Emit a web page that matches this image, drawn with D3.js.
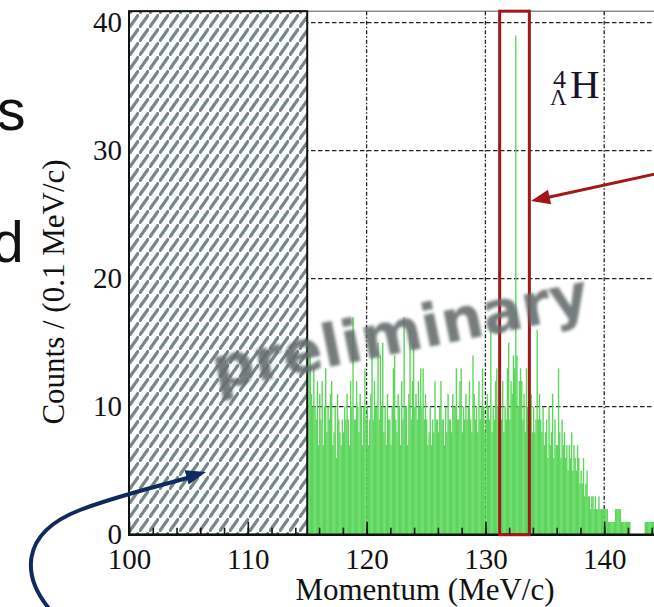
<!DOCTYPE html>
<html>
<head>
<meta charset="utf-8">
<script src="https://cdnjs.cloudflare.com/ajax/libs/d3/7.8.5/d3.min.js"></script>
<style>
  html, body { margin: 0; padding: 0; background: #fff; }
  svg { display: block; }
</style>
</head>
<body>
<div id="chart"></div>
<script>
// ---------------- data ----------------
const binStart = 115.0;      // MeV/c, first bin lower edge
const binWidth = 0.1;        // MeV/c
const counts = [
  9,15,14,11,10,13,10,9,12,7,
  11,9,12,7,10,13,8,10,9,11,
  12,7,8,10,6,11,9,8,7,9,
  8,10,9,11,9,7,12,10,17,9,
  9,12,10,8,11,10,7,10,13,9,
  10,7,9,11,16,9,12,10,10,15,
  9,14,10,15,8,10,7,11,9,9,
  7,10,13,14,9,8,11,10,7,12,
  9,17,10,10,7,11,16,9,12,15,
  10,11,9,12,10,13,10,13,9,11,
  9,7,8,10,7,9,8,12,9,9,
  8,10,12,9,9,7,10,8,11,9,
  9,8,11,10,10,13,9,9,12,13,
  8,10,9,11,9,10,12,9,8,14,
  11,9,10,8,12,9,10,13,10,8,
  9,11,10,9,16,8,10,9,12,13,
  10,9,11,9,12,8,10,9,13,15,
  9,12,11,14,13,39,14,10,12,13,
  12,9,11,8,13,10,9,9,11,8,
  10,8,9,16,9,11,9,8,10,7,
  8,9,6,10,7,8,11,6,9,7,
  7,13,8,6,9,7,8,6,7,5,
  7,6,8,5,7,6,5,7,6,4,
  5,4,6,3,4,5,3,3,2,3,
  3,2,3,2,2,3,2,2,2,2,
  2,2,2,1,1,1,1,1,1,2,
  2,2,2,2,1,1,1,1,1,1,
  1,1,0,0,0,0,0,0,0,0,
  0,0,0,0,1,1,1,1,1,1,
  1,1,1,0,0,0,0,0,0,0
];
const xDomain = [100, 150];
const yDomain = [0, 40];
const yFrameTop = 40.9;
const xMajorTicks = [100, 110, 120, 130, 140, 150];
const xMinorTicks = d3.range(100, 151, 2);
const yTicks = [0, 10, 20, 30, 40];
const xGrid = [110, 120, 130, 140];
const yGrid = [10, 20, 30, 40];
const cutRegion = [100, 115];        // hatched (excluded) region
const signalWindow = [131.2, 133.7]; // red box
const xTitle = "Momentum (MeV/c)";
const yTitle = "Counts / (0.1 MeV/c)";
const watermark = "preliminary";
const sideLetters = ["s", "d"];

// ---------------- layout ----------------
const W = 654, H = 607;
const svg = d3.select("#chart").append("svg")
  .attr("width", W).attr("height", H)
  .attr("viewBox", `0 0 ${W} ${H}`);

const x = d3.scaleLinear().domain(xDomain).range([129, 129 + 50 * 11.88]);
const y = d3.scaleLinear().domain(yDomain).range([534.7, 22.7]);

const defs = svg.append("defs");
const hatch = defs.append("pattern")
  .attr("id", "hatch").attr("patternUnits", "userSpaceOnUse")
  .attr("width", 10).attr("height", 14)
  .attr("x", x(100)).attr("y", 0);
hatch.append("rect").attr("width", 10).attr("height", 14).attr("fill", "#fff");
hatch.append("line").attr("x1", 0.3).attr("y1", 13.7).attr("x2", 9.7).attr("y2", 0.3)
  .attr("stroke", "#748888").attr("stroke-width", 3.2);

const blur = defs.append("filter").attr("id", "blur")
  .attr("x", "-10%").attr("y", "-30%").attr("width", "120%").attr("height", "160%");
blur.append("feGaussianBlur").attr("stdDeviation", 1.5);

const serif = "'Liberation Serif', 'Times New Roman', serif";

// side slide text
svg.append("text").attr("x", -3).attr("y", 130)
  .attr("font-family", "'Liberation Sans', Arial, sans-serif").attr("font-size", 57)
  .attr("fill", "#111").text(sideLetters[0]);
svg.append("text").attr("x", -8).attr("y", 262)
  .attr("font-family", "'Liberation Sans', Arial, sans-serif").attr("font-size", 57)
  .attr("fill", "#111").text(sideLetters[1]);

// frame top line
svg.append("line")
  .attr("x1", x(100)).attr("x2", W).attr("y1", y(yFrameTop)).attr("y2", y(yFrameTop))
  .attr("stroke", "#555").attr("stroke-width", 1);

// grid
const gridG = svg.append("g");
gridG.selectAll("line.gy").data(yGrid).join("line")
  .attr("x1", x(100)).attr("x2", W)
  .attr("y1", d => y(d)).attr("y2", d => y(d))
  .attr("stroke", "#222").attr("stroke-width", 1.3)
  .attr("stroke-dasharray", "4.5,2.5");
gridG.selectAll("line.gx").data(xGrid).join("line")
  .attr("x1", d => x(d)).attr("x2", d => x(d))
  .attr("y1", y(yFrameTop)).attr("y2", y(0))
  .attr("stroke", "#222").attr("stroke-width", 1.3)
  .attr("stroke-dasharray", "4,2,1.5,2");

// histogram
const bw = x(binWidth) - x(0);
svg.append("g").selectAll("rect").data(counts).join("rect")
  .attr("x", (d, i) => x(binStart + i * binWidth))
  .attr("width", bw + 0.2)
  .attr("y", d => y(d))
  .attr("height", d => y(0) - y(d))
  .attr("fill", "#5cd65c");

// hatched cut region
svg.append("rect")
  .attr("x", x(cutRegion[0])).attr("y", y(yFrameTop))
  .attr("width", x(cutRegion[1]) - x(cutRegion[0]))
  .attr("height", y(0) - y(yFrameTop))
  .attr("fill", "url(#hatch)")
  .attr("stroke", "#111").attr("stroke-width", 2);

// axes ticks
const xAxisMinor = d3.axisBottom(x).tickValues(xMinorTicks).tickSizeInner(-7).tickSizeOuter(0).tickFormat("");
const xAxisMajor = d3.axisBottom(x).tickValues(xMajorTicks).tickSizeInner(-13).tickSizeOuter(0).tickPadding(14).tickFormat(d3.format("d"));
const gMin = svg.append("g").attr("transform", `translate(0,${y(0)})`).call(xAxisMinor);
const gMaj = svg.append("g").attr("transform", `translate(0,${y(0)})`).call(xAxisMajor);
[gMin, gMaj].forEach(g => {
  g.select(".domain").remove();
  g.selectAll(".tick line").attr("stroke", "#111").attr("stroke-width", 1.6);
});
gMaj.selectAll(".tick text")
  .attr("font-family", serif).attr("font-size", 29).attr("fill", "#111");

const yAxis = d3.axisLeft(y).tickValues(yTicks).tickSize(0).tickPadding(7).tickFormat(d3.format("d"));
const gY = svg.append("g").attr("transform", `translate(${x(100)},0)`).call(yAxis);
gY.select(".domain").remove();
gY.selectAll(".tick text")
  .attr("font-family", serif).attr("font-size", 29).attr("fill", "#111");

// axis line
svg.append("line")
  .attr("x1", x(100) - 1).attr("x2", W).attr("y1", y(0)).attr("y2", y(0))
  .attr("stroke", "#111").attr("stroke-width", 2.6);

// titles
svg.append("text").attr("x", 425).attr("y", 600).attr("text-anchor", "middle")
  .attr("font-family", serif).attr("font-size", 31).attr("fill", "#111").text(xTitle);
svg.append("text").attr("transform", "translate(64,292) rotate(-90)").attr("text-anchor", "middle")
  .attr("font-family", serif).attr("font-size", 31).attr("fill", "#111").text(yTitle);

// hypertriton label
const lab = svg.append("g").attr("font-family", serif).attr("fill", "#15152a");
lab.append("text").attr("x", 570).attr("y", 98).attr("font-size", 41).text("H");
lab.append("text").attr("x", 553).attr("y", 88).attr("font-size", 26).text("4");
lab.append("text").attr("x", 550).attr("y", 105).attr("font-size", 23).text("Λ");

// signal window box
svg.append("rect")
  .attr("x", x(signalWindow[0])).attr("y", y(yFrameTop))
  .attr("width", x(signalWindow[1]) - x(signalWindow[0]))
  .attr("height", y(0) - y(yFrameTop))
  .attr("fill", "none").attr("stroke", "#a3161a").attr("stroke-width", 3);

// arrows
function arrow(pathD, tip, from, color, sw, len, wid) {
  const dx = tip[0] - from[0], dy = tip[1] - from[1];
  const L = Math.hypot(dx, dy), ux = dx / L, uy = dy / L;
  svg.append("path").attr("d", pathD).attr("fill", "none")
    .attr("stroke", color).attr("stroke-width", sw).attr("stroke-linecap", "round");
  const bx = tip[0] - ux * len, by = tip[1] - uy * len;
  const px = -uy * wid / 2, py = ux * wid / 2;
  svg.append("path")
    .attr("d", `M${tip[0]},${tip[1]} L${bx + px},${by + py} L${bx - px},${by - py} Z`)
    .attr("fill", color);
}
// red arrow
{
  const tip = [531, 201], start = [660, 173];
  const dx = tip[0] - start[0], dy = tip[1] - start[1], L = Math.hypot(dx, dy);
  const end = [tip[0] - dx / L * 12, tip[1] - dy / L * 12];
  arrow(`M${start[0]},${start[1]} L${end[0]},${end[1]}`, tip, start, "#a3161a", 3, 19, 15);
}
// blue curved arrow
{
  const tip = [206, 472];
  arrow(`M52,612 C22,578 18,534 80,510 C120,495 160,486 194,476`, tip, [170, 482], "#0f2a5c", 4, 20, 15);
}

// watermark
svg.append("text")
  .attr("transform", "translate(404,352) rotate(-11.5)")
  .attr("text-anchor", "middle")
  .attr("font-family", "'DejaVu Sans', Verdana, sans-serif")
  .attr("font-weight", "bold")
  .attr("font-size", 59)
  .attr("fill", "#666e6e").attr("fill-opacity", 0.9)
  .attr("filter", "url(#blur)")
  .text(watermark);
</script>
</body>
</html>
